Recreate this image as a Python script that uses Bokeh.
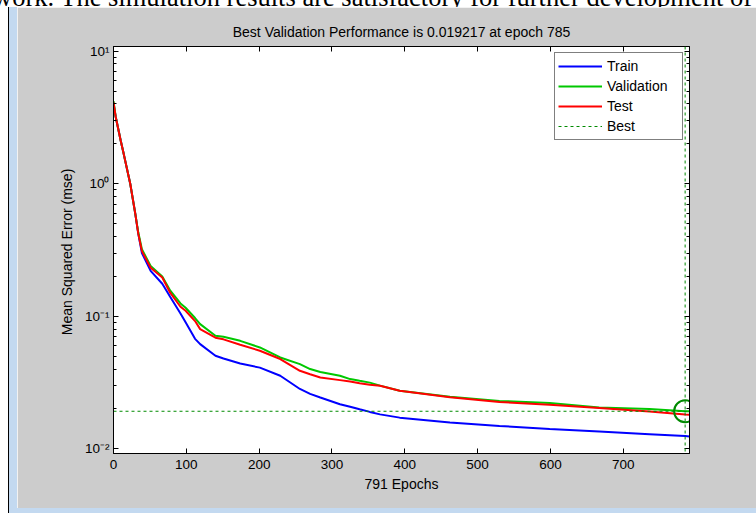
from bokeh.plotting import figure
from bokeh.layouts import row, column
from bokeh.models import (FixedTicker, LogAxis, LinearAxis, Span, Div,
                          CustomJSTickFormatter, Range1d)
from bokeh.embed import file_html
from bokeh.resources import INLINE

# ---- data ----
epochs = [0, 3, 10, 14, 23, 30, 34, 39, 51, 67, 78, 92, 99, 112, 119, 140, 151, 174,
          201, 229, 256, 270, 284, 311, 325, 338, 352, 366, 393, 462, 530, 599, 667,
          736, 785, 791]
train = [4.0, 3.2, 2.1, 1.68, 1.0, 0.59, 0.42, 0.30, 0.22, 0.176, 0.14, 0.105, 0.090,
         0.0676, 0.0617, 0.0504, 0.048, 0.044, 0.041, 0.0356, 0.0283, 0.026, 0.0244,
         0.0217, 0.0208, 0.0199, 0.0190, 0.0182, 0.0172, 0.0158, 0.0149, 0.0141,
         0.0135, 0.0129, 0.0125, 0.0124]
validation = [4.2, 3.2, 2.1, 1.68, 1.0, 0.59, 0.43, 0.32, 0.24, 0.20, 0.156, 0.125, 0.116,
              0.097, 0.0873, 0.0713, 0.070, 0.0653, 0.0582, 0.0489, 0.0436, 0.040, 0.038,
              0.0356, 0.0336, 0.0326, 0.0316, 0.0300, 0.0274, 0.0247, 0.0230, 0.0222,
              0.0205, 0.0200, 0.019217, 0.0192]
test = [4.1, 3.2, 2.1, 1.68, 1.0, 0.59, 0.42, 0.31, 0.232, 0.196, 0.15, 0.118, 0.110,
        0.092, 0.080, 0.069, 0.067, 0.061, 0.055, 0.0476, 0.0388, 0.0365, 0.0345,
        0.0330, 0.0322, 0.0312, 0.0305, 0.0299, 0.0274, 0.0245, 0.0226, 0.0215,
        0.0203, 0.0191, 0.0182, 0.0181]
best_epoch = 785
best_perf = 0.019217
n_epochs = 791

x_ticks = [0, 100, 200, 300, 400, 500, 600, 700]
y_ticks = [0.01, 0.1, 1, 10]
y_tick_labels = ["10\u207b\u00b2", "10\u207b\u00b9", "10\u2070", "10\u00b9"]
y_minor_ticks = [m * 10.0 ** k for k in (-2, -1, 0) for m in range(2, 10)]

doc_text = "work. The simulation results are satisfactory for further development of"

FONT = "Liberation Sans"
FS = "14px"
FS_TICK = "13.5px"
BEST_COLOR = "#008A00"
STRIP = "#C3D9F0"

p = figure(width=739, height=501,
           x_range=Range1d(0, n_epochs),
           y_range=Range1d(10 ** -2.035, 10 ** 1.035),
           y_axis_type="log",
           output_backend="svg", toolbar_location=None,
           title=f"Best Validation Performance is {best_perf} at epoch {best_epoch}")
p.margin = 0

p.min_border_left = 96
p.min_border_right = 67
p.min_border_top = 39
p.min_border_bottom = 55

p.border_fill_color = "#CCCCCC"
p.background_fill_color = "white"
p.outline_line_color = "black"
p.grid.visible = False

p.title.text_font = FONT
p.title.text_font_size = FS
p.title.text_font_style = "normal"
p.title.text_color = "black"
p.title.align = "center"
p.title.standoff = 14

left_axis = p.left[0]
bottom_axis = p.below[0]

blank = CustomJSTickFormatter(code="return ''")
top_axis = LinearAxis(ticker=FixedTicker(ticks=x_ticks), formatter=blank)
right_axis = LogAxis(ticker=FixedTicker(ticks=y_ticks, minor_ticks=y_minor_ticks),
                     formatter=blank)
p.add_layout(top_axis, "above")
p.add_layout(right_axis, "right")

bottom_axis.ticker = FixedTicker(ticks=x_ticks)
left_axis.ticker = FixedTicker(ticks=y_ticks, minor_ticks=y_minor_ticks)
left_axis.formatter = CustomJSTickFormatter(
    args=dict(tvals=y_ticks, tlabels=y_tick_labels),
    code="""
    for (let i = 0; i < tvals.length; i++) {
        if (Math.abs(Math.log10(tvals[i]) - Math.log10(tick)) < 1e-6) return tlabels[i];
    }
    return '';
    """)

for ax in (left_axis, bottom_axis, top_axis, right_axis):
    ax.axis_line_color = "black"
    ax.axis_line_width = 1
    ax.major_tick_line_color = "black"
    ax.minor_tick_line_color = "black"
    ax.major_tick_in = 5
    ax.major_tick_out = 0
    ax.minor_tick_in = 3
    ax.minor_tick_out = 0
    ax.major_label_text_font = FONT
    ax.major_label_text_font_size = FS_TICK
    ax.major_label_text_color = "black"
    ax.axis_label_text_font = FONT
    ax.axis_label_text_font_size = FS
    ax.axis_label_text_font_style = "normal"
    ax.axis_label_text_color = "black"

bottom_axis.minor_tick_in = 0
top_axis.minor_tick_in = 0
top_axis.major_label_standoff = 0
right_axis.major_label_standoff = 0

bottom_axis.axis_label = f"{n_epochs} Epochs"
bottom_axis.major_label_standoff = 6
bottom_axis.axis_label_standoff = 4
left_axis.axis_label = "Mean Squared Error  (mse)"
left_axis.major_label_standoff = 4
left_axis.axis_label_standoff = 7

p.line(epochs, train, line_color="#0000FF", line_width=2, legend_label="Train")
p.line(epochs, validation, line_color="#00C800", line_width=2, legend_label="Validation")
p.line(epochs, test, line_color="#FF0000", line_width=2, legend_label="Test")
p.line([0, n_epochs], [best_perf, best_perf], line_color=BEST_COLOR, line_width=1,
       line_dash="3 3", legend_label="Best")
p.add_layout(Span(location=best_epoch, dimension="height", line_color=BEST_COLOR,
                  line_width=1, line_dash="3 3"))
p.scatter([best_epoch], [best_perf], marker="circle", size=22, fill_color=None,
          line_color=BEST_COLOR, line_width=2)

lg = p.legend[0]
lg.location = "top_right"
lg.margin = 6
lg.padding = 3
lg.spacing = 0
lg.label_height = 20
lg.glyph_height = 20
lg.glyph_width = 44
lg.label_width = 72
lg.label_standoff = 5
lg.label_text_font = FONT
lg.label_text_font_size = FS
lg.label_text_color = "black"
lg.border_line_color = "black"
lg.border_line_width = 1
lg.background_fill_color = "white"
lg.background_fill_alpha = 1

# surrounding document page: cut-off text line above, window edge at left/bottom
top_text = Div(
    text=('<div style="position:relative; top:-16px; left:-7px; white-space:nowrap; '
          'font-family:\'Liberation Serif\'; font-size:26.5px; line-height:26px; '
          'color:black;">' + doc_text + '</div>'),
    width=756, height=7, margin=0,
    styles={"overflow": "hidden", "background-color": "white"})
white_gap = Div(text="", width=8, height=506, margin=0,
                styles={"background-color": "white"})
black_line = Div(text="", width=1, height=506, margin=0,
                 styles={"background-color": "black"})
left_strip = Div(text="", width=8, height=501, margin=0,
                 styles={"background-color": STRIP})
bottom_strip = Div(text="", width=747, height=5, margin=0,
                   styles={"background-color": STRIP})

inner = column(row(left_strip, p, spacing=0), bottom_strip, spacing=0)
page = column(top_text, row(white_gap, black_line, inner, spacing=0), spacing=0)

open("out.html", "w").write(file_html(page, INLINE))
